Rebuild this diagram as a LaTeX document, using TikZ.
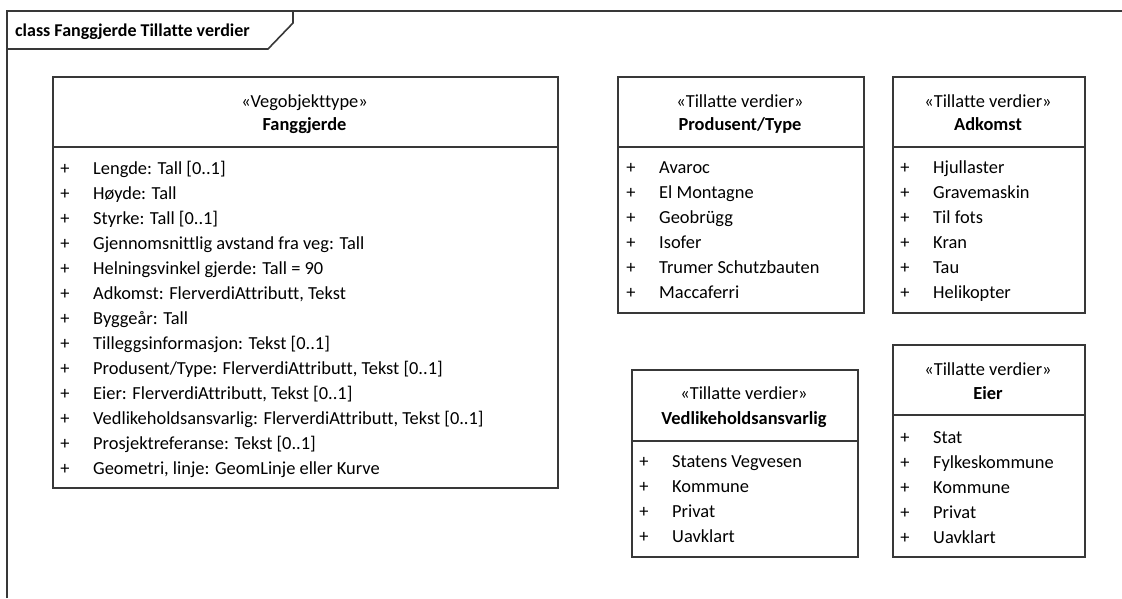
\documentclass[tikz,border=0pt]{standalone}
\usepackage{fontspec}
\setmainfont{Carlito}[Ligatures=NoCommon]
\begin{document}
\begin{tikzpicture}[x=1pt,y=-1pt,
  line/.style={draw=black!78, line width=1.6pt},
  umlbox/.style={line, rectangle, anchor=north west, inner sep=0pt, fill=white},
  txt/.style={inner sep=0pt, font=\fontsize{18.4}{21}\selectfont, text=black},
  stereo/.style={txt, anchor=base},
  cname/.style={txt, anchor=base, font=\fontsize{18.4}{21}\selectfont\bfseries},
  plus/.style={txt, anchor=base},
  attr/.style={txt, anchor=base west}]
\useasboundingbox (0,0) rectangle (1122,598);
\fill[white] (0,0) rectangle (1122,598);
% frame
\draw[line] (7,598) -- (7,11) -- (1122,11);
\draw[line] (7,49) -- (268,49) -- (293,23) -- (293,11);
\node[txt, anchor=base west, font=\fontsize{18}{21}\selectfont\bfseries] (title) at (15,36) {class Fanggjerde Tillatte verdier};

% ---------- Fanggjerde ----------
\node[umlbox, minimum width=505pt, minimum height=411pt] (fang) at (52,76) {};
\draw[line] (52,147) -- (557,147);
\node[stereo] (fangst) at (304.5,107) {«Vegobjekttype»};
\node[cname] (fangnm) at (304.5,130) {Fanggjerde};
\foreach \t [count=\i from 0] in {Lengde: Tall [0..1],Høyde: Tall,Styrke: Tall [0..1],Gjennomsnittlig avstand fra veg: Tall,Helningsvinkel gjerde: Tall = 90,{Adkomst: FlerverdiAttributt, Tekst},Byggeår: Tall,Tilleggsinformasjon: Tekst [0..1],{Produsent/Type: FlerverdiAttributt, Tekst [0..1]},{Eier: FlerverdiAttributt, Tekst [0..1]},{Vedlikeholdsansvarlig: FlerverdiAttributt, Tekst [0..1]},Prosjektreferanse: Tekst [0..1],{Geometri, linje: GeomLinje eller Kurve}}{
  \node[plus] (fangp\i) at (65,174+25*\i) {+};
  \node[attr] (fanga\i) at (93,174+25*\i) {\t};
}

% ---------- Produsent/Type ----------
\node[umlbox, minimum width=246pt, minimum height=236pt] (prod) at (617,76) {};
\draw[line] (617,147) -- (863,147);
\node[stereo] (prodst) at (740,107) {«Tillatte verdier»};
\node[cname] (prodnm) at (740,130) {Produsent/Type};
\foreach \t [count=\i from 0] in {Avaroc,El Montagne,Geobrügg,Isofer,Trumer Schutzbauten,Maccaferri}{
  \node[plus] (prodp\i) at (631,173+25*\i) {+};
  \node[attr] (proda\i) at (659,173+25*\i) {\t};
}

% ---------- Adkomst ----------
\node[umlbox, minimum width=192pt, minimum height=236pt] (adk) at (892,76) {};
\draw[line] (892,147) -- (1084,147);
\node[stereo] (adkst) at (988,107) {«Tillatte verdier»};
\node[cname] (adknm) at (988,130) {Adkomst};
\foreach \t [count=\i from 0] in {Hjullaster,Gravemaskin,Til fots,Kran,Tau,Helikopter}{
  \node[plus] (adkp\i) at (905,173+25*\i) {+};
  \node[attr] (adka\i) at (933,173+25*\i) {\t};
}

% ---------- Vedlikeholdsansvarlig ----------
\node[umlbox, minimum width=226pt, minimum height=187pt] (ved) at (631,369) {};
\draw[line] (631,441) -- (857,441);
\node[stereo] (vedst) at (744,399) {«Tillatte verdier»};
\node[cname] (vednm) at (744,424) {Vedlikeholdsansvarlig};
\foreach \t [count=\i from 0] in {Statens Vegvesen,Kommune,Privat,Uavklart}{
  \node[plus] (vedp\i) at (644,467+25*\i) {+};
  \node[attr] (veda\i) at (672,467+25*\i) {\t};
}

% ---------- Eier ----------
\node[umlbox, minimum width=192pt, minimum height=212pt] (eier) at (892,344) {};
\draw[line] (892,415) -- (1084,415);
\node[stereo] (eierst) at (988,375) {«Tillatte verdier»};
\node[cname] (eiernm) at (988,399) {Eier};
\foreach \t [count=\i from 0] in {Stat,Fylkeskommune,Kommune,Privat,Uavklart}{
  \node[plus] (eierp\i) at (905,443+25*\i) {+};
  \node[attr] (eiera\i) at (933,443+25*\i) {\t};
}
\end{tikzpicture}
\end{document}
